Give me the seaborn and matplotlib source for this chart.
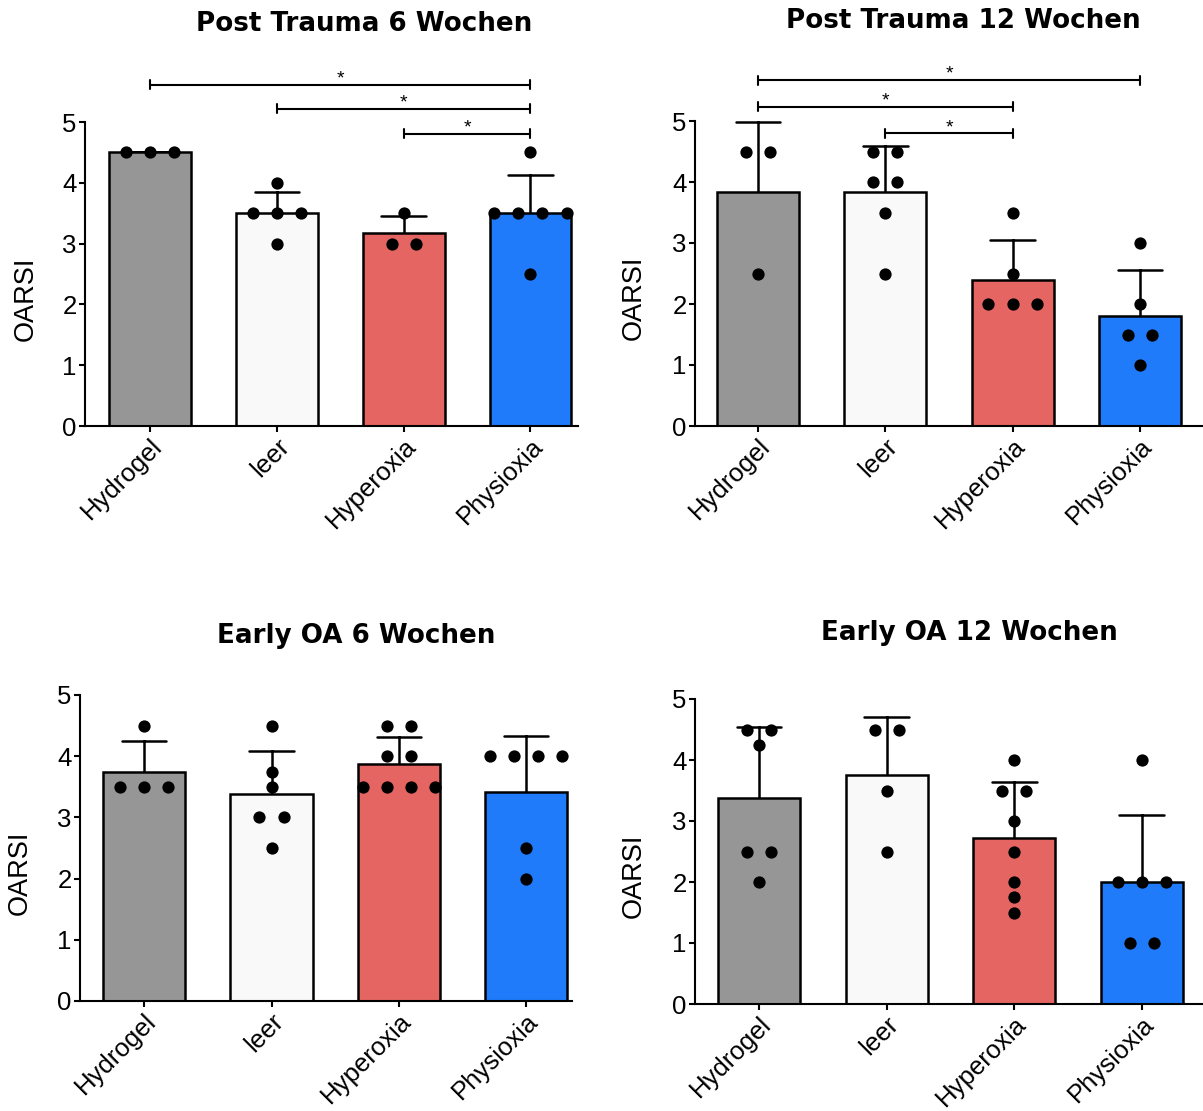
import matplotlib
matplotlib.use("Agg")
import matplotlib.pyplot as plt
import seaborn as sns
import pandas as pd
import numpy as np

# ---------------- data ----------------
groups = ["Hydrogel", "leer", "Hyperoxia", "Physioxia"]
bar_colors = ["#969696", "#F9F9F9", "#E46561", "#1F7BFA"]

pt6_hydrogel = [4.5, 4.5, 4.5]
pt6_leer = [4.0, 3.5, 3.5, 3.5, 3.0]
pt6_hyperoxia = [3.5, 3.0, 3.0]
pt6_physioxia = [4.5, 3.5, 3.5, 3.5, 3.5, 2.5]

pt12_hydrogel = [4.5, 4.5, 2.5]
pt12_leer = [4.5, 4.5, 4.0, 4.0, 3.5, 2.5]
pt12_hyperoxia = [3.5, 2.5, 2.0, 2.0, 2.0]
pt12_physioxia = [3.0, 2.0, 1.5, 1.5, 1.0]

oa6_hydrogel = [4.5, 3.5, 3.5, 3.5]
oa6_leer = [4.5, 3.75, 3.5, 3.0, 3.0, 2.5]
oa6_hyperoxia = [4.5, 4.5, 4.0, 4.0, 3.5, 3.5, 3.5, 3.5]
oa6_physioxia = [4.0, 4.0, 4.0, 4.0, 2.5, 2.0]

oa12_hydrogel = [4.5, 4.5, 4.25, 2.5, 2.5, 2.0]
oa12_leer = [4.5, 4.5, 3.5, 2.5]
oa12_hyperoxia = [4.0, 3.5, 3.5, 3.0, 2.5, 2.0, 1.75, 1.5]
oa12_physioxia = [4.0, 2.0, 2.0, 2.0, 1.0, 1.0]

titles = ["Post Trauma 6 Wochen", "Post Trauma 12 Wochen",
          "Early OA 6 Wochen", "Early OA 12 Wochen"]
y_label = "OARSI"
y_ticks = [0, 1, 2, 3, 4, 5]

pt6_sig = [(0, 3, "*"), (1, 3, "*"), (2, 3, "*")]
pt12_sig = [(0, 3, "*"), (0, 2, "*"), (1, 2, "*")]

DOT_STEP = 0.19  # horizontal spacing of equal-valued dots (category units)


def make_df(*series):
    rows = []
    for gi, (g, vals) in enumerate(zip(groups, series)):
        vals = list(vals)
        counts = {}
        for v in vals:
            counts[v] = counts.get(v, 0) + 1
        seen = {}
        for v in vals:
            k = counts[v]
            j = seen.get(v, 0)
            seen[v] = j + 1
            off = (j - (k - 1) / 2) * DOT_STEP
            rows.append({"group": g, "value": v, "pos": gi + off})
    return pd.DataFrame(rows)


panels = [
    make_df(pt6_hydrogel, pt6_leer, pt6_hyperoxia, pt6_physioxia),
    make_df(pt12_hydrogel, pt12_leer, pt12_hyperoxia, pt12_physioxia),
    make_df(oa6_hydrogel, oa6_leer, oa6_hyperoxia, oa6_physioxia),
    make_df(oa12_hydrogel, oa12_leer, oa12_hyperoxia, oa12_physioxia),
]
sigs = [pt6_sig, pt12_sig, None, None]

# ---------------- layout ----------------
sns.set_style("ticks")
plt.rcParams["font.family"] = ["Liberation Sans", "DejaVu Sans"]
for key in ["text.color", "axes.labelcolor", "xtick.color", "ytick.color",
            "axes.edgecolor"]:
    plt.rcParams[key] = "black"

W, H = 1203, 1111
fig = plt.figure(figsize=(W / 100, H / 100), dpi=100)

# pixel boxes: left, right, top, bottom ; xlim
boxes = [
    (85, 578, 122, 426, (-0.513, 3.375)),
    (695, 1203, 121, 426, (-0.495, 3.495)),
    (80, 572, 695, 1001, (-0.504, 3.36)),
    (695, 1203, 699, 1004, (-0.503, 3.48)),
]
title_pos = [(364, 24), (963, 21), (356, 636), (969, 633)]
label_x = [39, 647, 33, 647]
sig_levels = [[5.615, 5.22, 4.81], [5.67, 5.235, 4.80]]

for i, df in enumerate(panels):
    l, r, t, b, xl = boxes[i]
    ax = fig.add_axes([l / W, 1 - b / H, (r - l) / W, (b - t) / H])
    sns.barplot(data=df, x="group", y="value", order=groups, hue="group",
                hue_order=groups, palette=bar_colors, legend=False,
                saturation=1, errorbar="sd", capsize=0.35, width=0.645,
                edgecolor="black", linewidth=1.8,
                err_kws={"color": "black", "linewidth": 1.8, "zorder": 0.5},
                ax=ax)
    sns.scatterplot(data=df, x="pos", y="value", color="black", s=78,
                    linewidth=0, zorder=3, clip_on=False, ax=ax)
    ax.set_xlim(*xl)
    ax.set_ylim(0, 5)
    ax.set_yticks(y_ticks)
    ax.set_xticks(range(len(groups)))
    ax.set_xticklabels(groups)
    ax.set_xlabel("")
    ax.set_ylabel(y_label, fontsize=19.5)
    ax.yaxis.set_label_coords((label_x[i] - l) / (r - l), 0.42)
    sns.despine(ax=ax)
    for s in ["left", "bottom"]:
        ax.spines[s].set_linewidth(1.5)
    ax.tick_params(axis="both", direction="out", length=4, width=1.5,
                   labelsize=18.5, pad=2)
    ax.tick_params(axis="x", labelsize=18.5)
    for lab in ax.get_xticklabels():
        lab.set_rotation(45)
        lab.set_ha("right")
        lab.set_va("top")
        lab.set_rotation_mode("anchor")

    if sigs[i]:
        d = 0.074
        for (a, c, txt), yv in zip(sigs[i], sig_levels[i]):
            ax.plot([a, c], [yv, yv], color="black", lw=1.5, clip_on=False)
            ax.plot([a, a], [yv - d, yv + d], color="black", lw=1.5, clip_on=False)
            ax.plot([c, c], [yv - d, yv + d], color="black", lw=1.5, clip_on=False)
            ax.text((a + c) / 2, yv + 0.02, txt, ha="center", va="baseline",
                    fontsize=14, clip_on=False)

    tx, ty = title_pos[i]
    fig.text(tx / W, 1 - ty / H, titles[i], ha="center", va="center",
             fontsize=18.8, fontweight="bold", family="DejaVu Sans")

fig.savefig("out.png", dpi=100)
